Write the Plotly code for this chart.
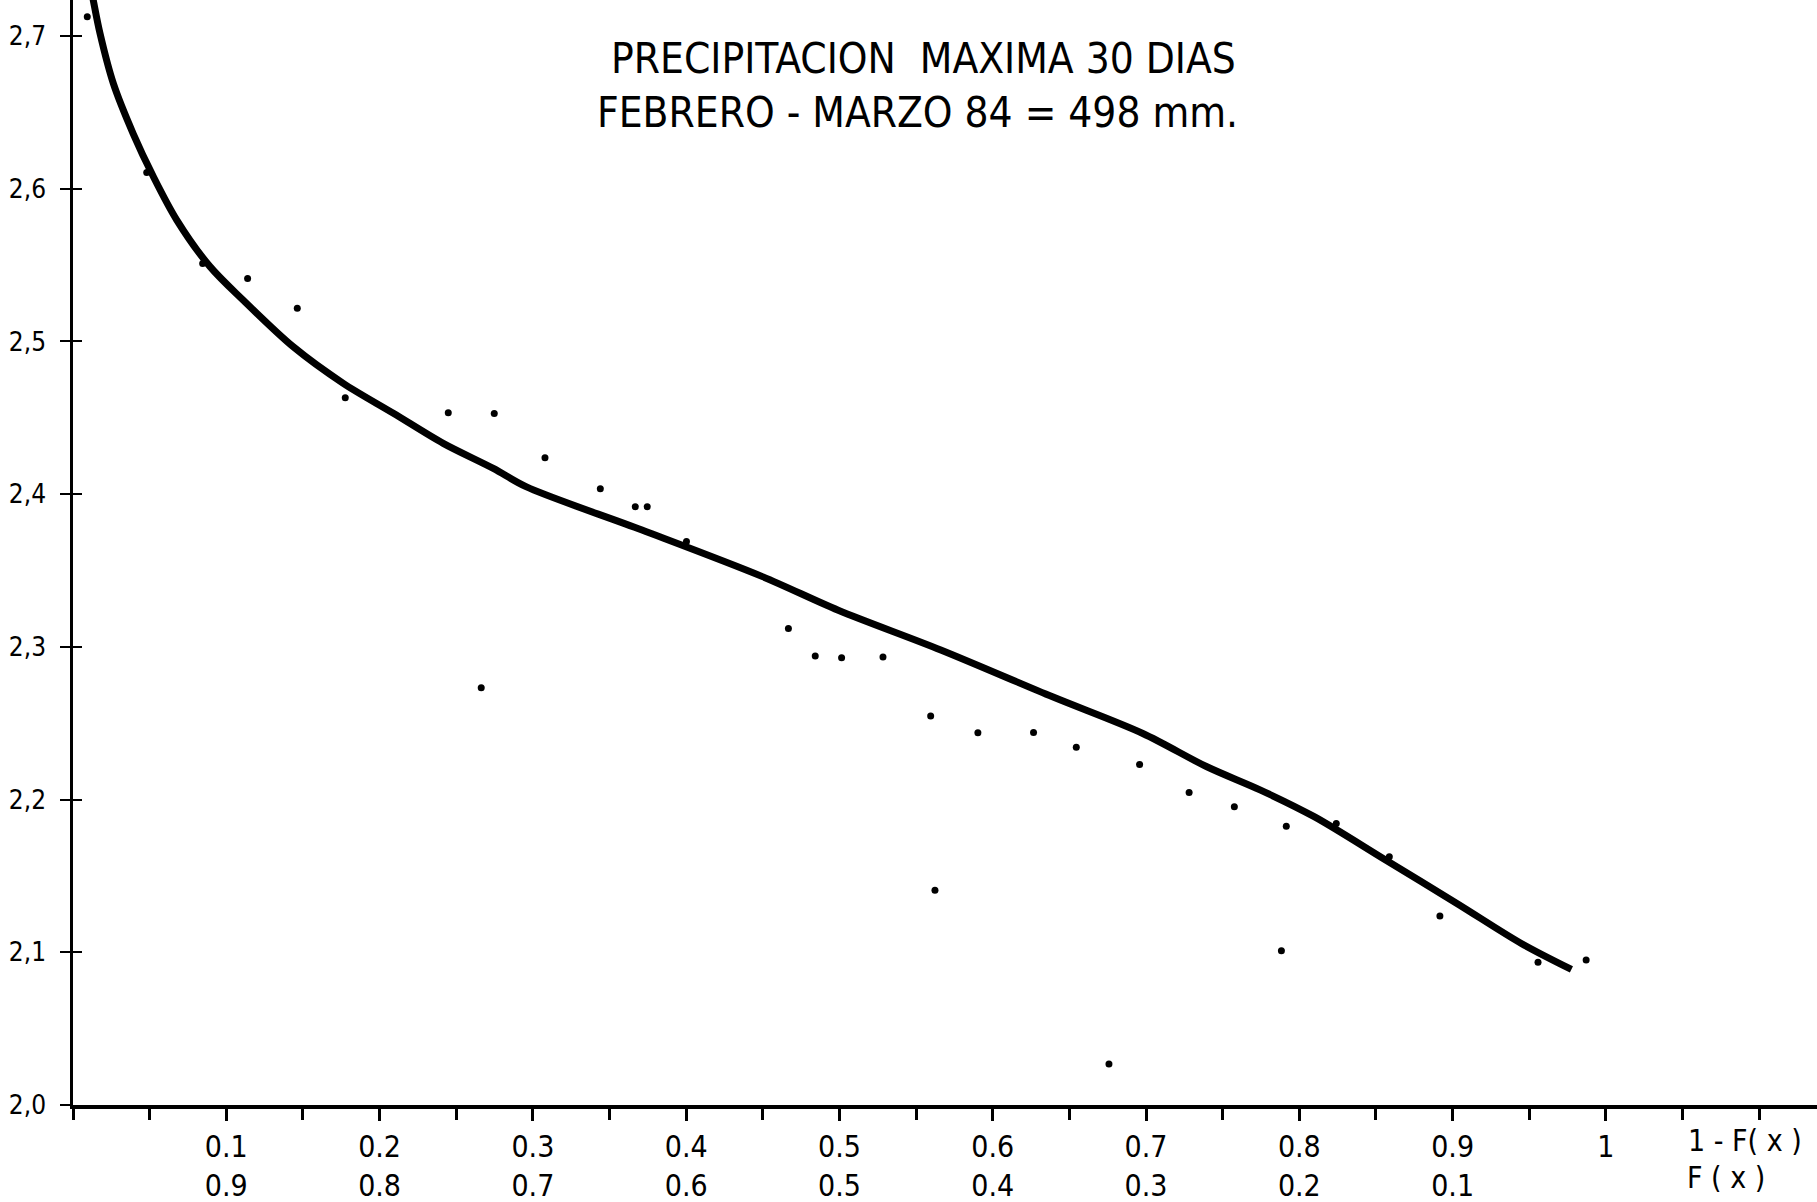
import plotly.graph_objects as go

# fitted curve: x = 1 - F(x), y = log P
curve_x = [0.0110, 0.0132, 0.0176, 0.0263, 0.0393, 0.0524, 0.0677, 0.0894, 0.1111, 0.1437,
           0.1763, 0.2090, 0.2415, 0.2742, 0.2955, 0.3712, 0.4498, 0.4992, 0.5661, 0.6390,
           0.6979, 0.7397, 0.7747, 0.8097, 0.8563, 0.9028, 0.9448, 0.9775]
curve_y = [2.735, 2.7236, 2.7018, 2.669, 2.636, 2.608, 2.5795, 2.549, 2.527, 2.4965,
           2.4726, 2.453, 2.4333, 2.4169, 2.4049, 2.3765, 2.346, 2.324, 2.298, 2.2673,
           2.2433, 2.2215, 2.2062, 2.1888, 2.1604, 2.132, 2.1058, 2.0888]

# observed points
obs_x = [0.0093, 0.0481, 0.0846, 0.1139, 0.1463, 0.1776, 0.2448, 0.2748, 0.3079, 0.3440,
         0.3668, 0.3746, 0.4002, 0.4667, 0.4842, 0.5014, 0.5284, 0.2663, 0.5595, 0.5903,
         0.6266, 0.6545, 0.6958, 0.7281, 0.7576, 0.7915, 0.8241, 0.8587, 0.8917, 0.7883,
         0.9557, 0.9871, 0.5623, 0.6758]
obs_y = [2.7126, 2.6107, 2.5511, 2.5413, 2.5217, 2.4631, 2.4533, 2.4529, 2.4239, 2.4035,
         2.3918, 2.3918, 2.369, 2.3121, 2.294, 2.2929, 2.2933, 2.2732, 2.2547, 2.2438,
         2.244, 2.2342, 2.223, 2.2047, 2.1953, 2.1826, 2.1844, 2.1626, 2.1238, 2.101,
         2.0934, 2.0949, 2.1407, 2.0268]

y_ticks = [2.0, 2.1, 2.2, 2.3, 2.4, 2.5, 2.6, 2.7]
y_labels = ["2,0", "2,1", "2,2", "2,3", "2,4", "2,5", "2,6", "2,7"]
x_ticks = [0.1, 0.2, 0.3, 0.4, 0.5, 0.6, 0.7, 0.8, 0.9, 1.0]
x_labels_top = ["0.1", "0.2", "0.3", "0.4", "0.5", "0.6", "0.7", "0.8", "0.9", "1"]
x_ticks_bottom = [0.1, 0.2, 0.3, 0.4, 0.5, 0.6, 0.7, 0.8, 0.9]
x_labels_bottom = ["0.9", "0.8", "0.7", "0.6", "0.5", "0.4", "0.3", "0.2", "0.1"]

title_1 = "PRECIPITACION&nbsp;&nbsp;MAXIMA 30 DIAS"
title_2 = "FEBRERO - MARZO 84 = 498 mm."
label_top = "1 - F( x )"
label_bottom = "F ( x )"

FONT = "DejaVu Sans Condensed, Liberation Sans Narrow, DejaVu Sans, sans-serif"

fig = go.Figure()
fig.add_trace(go.Scatter(x=curve_x, y=curve_y, mode="lines",
                         line=dict(color="black", width=7, shape="spline", smoothing=0.9),
                         hoverinfo="skip", showlegend=False))
fig.add_trace(go.Scatter(x=obs_x, y=obs_y, mode="markers",
                         marker=dict(color="black", size=7),
                         showlegend=False))
# invisible trace so the helper axes (second label row / crossing ticks) are drawn
fig.add_trace(go.Scatter(x=[0.5], y=[2.3], xaxis="x2", yaxis="y2", mode="markers",
                         marker=dict(opacity=0), hoverinfo="skip", showlegend=False))

fig.update_layout(
    width=1817, height=1202, autosize=False,
    margin=dict(l=73, r=0, t=0, b=97),
    paper_bgcolor="white", plot_bgcolor="white",
    font=dict(family=FONT, color="black", size=30),
    xaxis=dict(range=[0, 1.1377], tickmode="array", tickvals=x_ticks, ticktext=x_labels_top,
               ticks="outside", ticklen=12, tickwidth=2.5, tickcolor="black",
               minor=dict(dtick=0.05, tick0=0, ticks="outside", ticklen=11, tickwidth=2.5, tickcolor="black"),
               showline=True, linecolor="black", linewidth=3.5, showgrid=False, zeroline=False,
               tickfont=dict(size=30), ticklabelstandoff=0, automargin=False),
    xaxis2=dict(range=[0, 1.1377], overlaying="x", side="bottom", matches="x", anchor="y",
                tickmode="array", tickvals=x_ticks_bottom, ticktext=x_labels_bottom,
                ticks="", showline=False, showgrid=False, zeroline=False,
                tickfont=dict(size=30), ticklabelstandoff=60, automargin=False),
    yaxis=dict(range=[2.0, 2.7236], tickmode="array", tickvals=y_ticks, ticktext=y_labels,
               ticks="outside", ticklen=10, tickwidth=2, tickcolor="black",
               showline=True, linecolor="black", linewidth=2.5, showgrid=False, zeroline=False,
               tickfont=dict(size=26), ticklabelstandoff=9, automargin=False),
    yaxis2=dict(range=[2.0, 2.7236], overlaying="y", side="left", matches="y", anchor="x",
                tickmode="array", tickvals=y_ticks[1:], ticks="inside", ticklen=9, tickwidth=2,
                tickcolor="black", showticklabels=False, showline=False, showgrid=False,
                zeroline=False, automargin=False),
    annotations=[
        dict(text=title_1, xref="paper", yref="paper", x=(923 - 73) / 1744, y=1, yshift=-58,
             xanchor="center", yanchor="middle", showarrow=False, font=dict(size=42)),
        dict(text=title_2, xref="paper", yref="paper", x=(917 - 73) / 1744, y=1, yshift=-112,
             xanchor="center", yanchor="middle", showarrow=False, font=dict(size=42)),
        dict(text=label_top, xref="paper", yref="paper", x=(1745 - 73) / 1744, y=0, yshift=-35,
             xanchor="center", yanchor="middle", showarrow=False, font=dict(size=30)),
        dict(text=label_bottom, xref="paper", yref="paper", x=(1726 - 73) / 1744, y=0, yshift=-72,
             xanchor="center", yanchor="middle", showarrow=False, font=dict(size=30)),
    ],
)

fig.write_html("out.html", config={"displayModeBar": False},
               post_script="document.body.style.margin='0';")
